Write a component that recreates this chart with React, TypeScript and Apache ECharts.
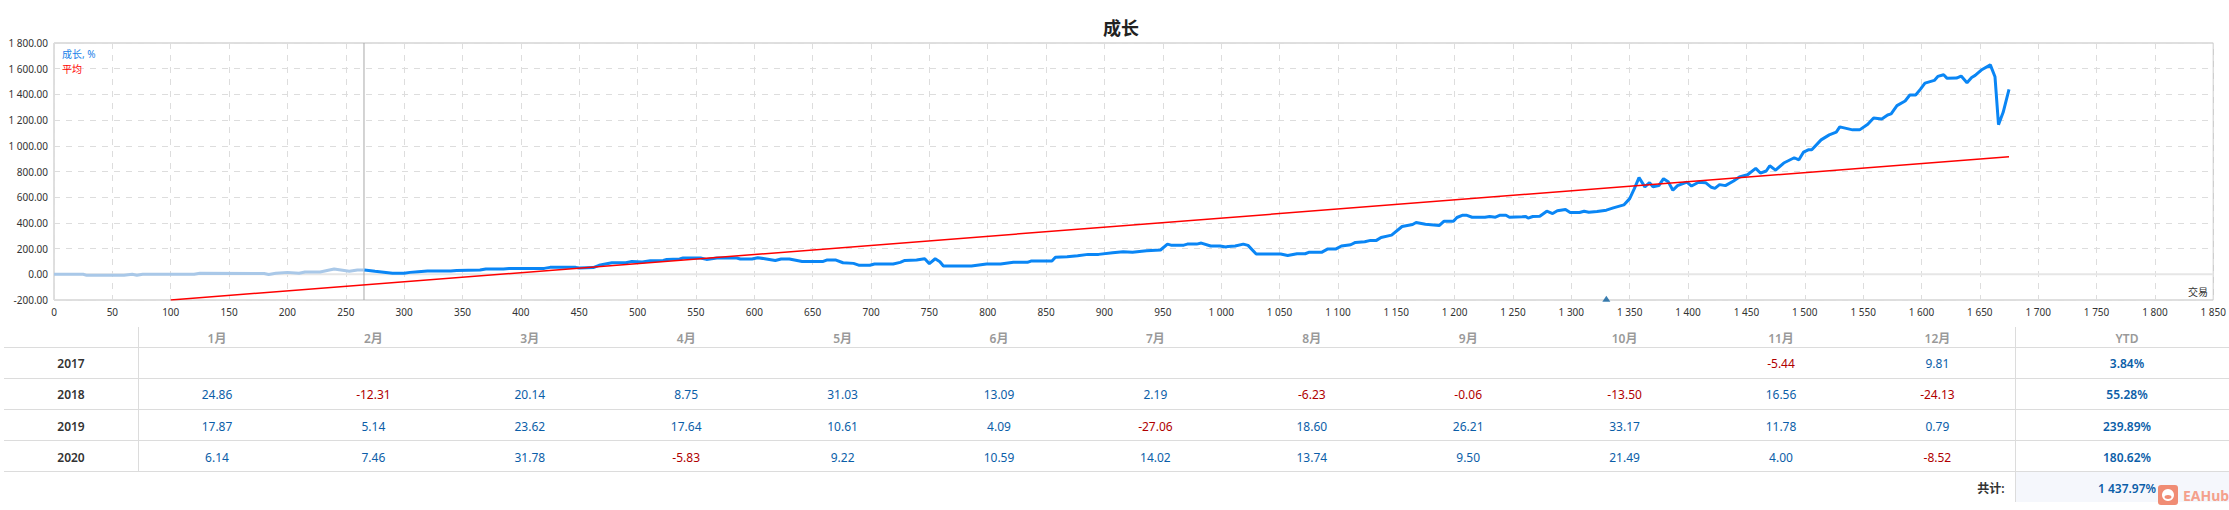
import React, { useEffect, useRef } from "react";
import * as echarts from "echarts";

const fadedTrades = [0, 25, 28, 60, 67, 71, 76, 120, 125, 180, 184, 190, 200, 210, 215, 228, 240, 253, 260, 266];
const fadedGrowth = [0, 0, -8, -8, 0, -8, 0, 0, 8, 6, -2, 8, 15, 8, 18, 18, 41, 23, 33, 33];

const growthTrades = [
  266, 275, 290, 300, 305, 312, 320, 340, 345, 365, 370, 385, 390, 420, 425, 447, 450, 462, 467, 478, 490, 495, 504, 511, 522, 525, 536, 539, 554, 559, 568, 585, 588, 598, 603, 609, 618, 623, 630, 641, 659, 662, 670, 676, 685, 690, 699, 703, 719, 725, 729, 739, 746, 750, 755, 759, 762, 786, 799, 811, 822, 834, 837, 855, 858, 868, 877, 886, 895,
  907, 916, 924, 936, 948, 954, 957, 968, 971, 979, 983, 991, 999, 1004, 1006, 1012, 1019, 1023, 1030, 1051, 1057, 1065, 1072, 1075, 1086, 1091, 1098, 1103, 1111, 1115, 1123, 1128, 1133, 1137, 1146, 1155, 1164, 1167, 1175, 1187, 1191, 1199, 1202, 1207, 1210, 1215, 1226, 1230, 1235, 1239, 1244, 1247, 1258, 1261, 1263, 1267, 1273, 1279, 1284, 1288, 1295, 1299, 1307, 1311, 1315, 1322, 1330, 1336, 1345, 1350, 1354, 1358, 1363, 1367,
  1370, 1375, 1379, 1383, 1387, 1391, 1399, 1403, 1409, 1415, 1420, 1423, 1427, 1432, 1439, 1444, 1451, 1458, 1462, 1467, 1470, 1475, 1482, 1491, 1495, 1499, 1503, 1506, 1514, 1521, 1527, 1530, 1541, 1547, 1554, 1559, 1566, 1571, 1574, 1579, 1586, 1590, 1595, 1599, 1603, 1611, 1614, 1619, 1622, 1630, 1634, 1639, 1643, 1646, 1652, 1659, 1663, 1666, 1670, 1675,
];
const growthValues = [
  33, 23, 8, 8, 15, 20, 25, 25, 30, 33, 41, 41, 46, 46, 54, 54, 49, 52, 70, 90, 90, 100, 95, 106, 108, 116, 119, 127, 127, 116, 127, 127, 119, 119, 129, 121, 108, 119, 119, 100, 100, 111, 111, 90, 85, 70, 70, 80, 80, 93, 108, 111, 121, 83, 121, 98, 65, 65, 80, 80, 93, 93, 103, 103, 132, 137, 145, 155, 155,
  168, 176, 171, 183, 189, 235, 227, 227, 235, 235, 243, 220, 220, 212, 217, 220, 235, 225, 158, 158, 147, 160, 160, 171, 171, 196, 196, 220, 230, 248, 253, 264, 264, 287, 305, 372, 388, 403, 390, 380, 413, 413, 442, 460, 460, 444, 444, 450, 444, 460, 460, 444, 447, 450, 437, 450, 452, 491, 473, 494, 504, 481, 481, 491, 483, 488, 499, 517, 540, 589, 667, 752, 680, 713,
  682, 690, 744, 721, 654, 690, 718, 687, 716, 713, 677, 669, 698, 690, 726, 757, 775, 824, 788, 804, 845, 811, 866, 907, 891, 951, 969, 969, 1046, 1085, 1106, 1147, 1124, 1124, 1168, 1217, 1209, 1240, 1248, 1313, 1349, 1395, 1395, 1439, 1488, 1509, 1540, 1553, 1525, 1527, 1543, 1491, 1532, 1548, 1594, 1630, 1537, 1165, 1261, 1439,
];

const averageTrades = [100, 1675];
const averageValues = [-200, 915];
const cursorTrades = [265.6, 265.6];
const cursorValues = [-200, 1800];
const zeroTrades = [0, 1850];
const zeroValues = [0, 0];
const markerTrades = [1330];
const markerValues = [-191];

const headers = ["1月", "2月", "3月", "4月", "5月", "6月", "7月", "8月", "9月", "10月", "11月", "12月"];
const years = ["2017", "2018", "2019", "2020"];
const row2017 = ["", "", "", "", "", "", "", "", "", "", "-5.44", "9.81"];
const row2018 = ["24.86", "-12.31", "20.14", "8.75", "31.03", "13.09", "2.19", "-6.23", "-0.06", "-13.50", "16.56", "-24.13"];
const row2019 = ["17.87", "5.14", "23.62", "17.64", "10.61", "4.09", "-27.06", "18.60", "26.21", "33.17", "11.78", "0.79"];
const row2020 = ["6.14", "7.46", "31.78", "-5.83", "9.22", "10.59", "14.02", "13.74", "9.50", "21.49", "4.00", "-8.52"];
const ytd = ["3.84%", "55.28%", "239.89%", "180.62%"];
const totalLabel = "共计:";
const totalValue = "1 437.97%";

const FONT = '"Noto Sans", "Noto Sans CJK SC", sans-serif';
const pairs = (xs: number[], ys: number[]) => xs.map((x, i) => [x, ys[i]]);
const spaced = (s: string) => s.replace(/\B(?=(\d{3})+(?!\d))/g, " ");

function tableGraphics() {
  const rows = [row2017, row2018, row2019, row2020];
  const lineYs = [347.5, 378.5, 409.5, 440.5, 471.5];
  const rowYs = [363.5, 394.5, 426, 457];
  const colX = (i: number) => 217 + i * 156.4;
  const els: any[] = [];
  const text = (x: number, y: number, t: string, fill: string, weight: any = "normal", align: any = "center", size = 12) => ({
    type: "text", x, y, silent: true,
    style: { text: t, fill, font: `${weight} ${size}px ${FONT}`, textAlign: align, textVerticalAlign: "middle" },
  });
  const line = (x1: number, y1: number, x2: number, y2: number) => ({
    type: "line", silent: true, shape: { x1, y1, x2, y2 }, style: { stroke: "#dcdcdc", lineWidth: 1 },
  });
  els.push({ type: "rect", silent: true, shape: { x: 2016, y: 472, width: 213, height: 30 }, style: { fill: "#f5f7fc" } });
  lineYs.forEach((y) => els.push(line(4, y, 2229, y)));
  els.push(line(138.5, 327, 138.5, 471.5));
  els.push(line(2015.5, 327, 2015.5, 502));
  headers.forEach((h, i) => els.push(text(colX(i), 338, h, "#999999", 600)));
  els.push(text(2127, 338, "YTD", "#999999", 600));
  years.forEach((y, r) => {
    els.push(text(71, rowYs[r], y, "#333333", 600));
    rows[r].forEach((v, c) => {
      if (v) els.push(text(colX(c), rowYs[r], v, v.startsWith("-") ? "#b00000" : "#0b5ea8"));
    });
    els.push(text(2127, rowYs[r], ytd[r], "#0b5ea8", 600));
  });
  els.push(text(2004.5, 488, totalLabel, "#333333", 600, "right"));
  els.push(text(2127, 488, totalValue, "#0b5ea8", 600));
  // watermark
  els.push({ type: "rect", silent: true, shape: { x: 2158, y: 485, width: 20, height: 20, r: 3 }, style: { fill: "#f08c74" } });
  els.push({ type: "circle", silent: true, shape: { cx: 2168, cy: 495, r: 6 }, style: { fill: "#ffffff" } });
  els.push({ type: "ellipse", silent: true, shape: { cx: 2168, cy: 497, rx: 3.5, ry: 2 }, style: { fill: "#f08c74" } });
  els.push(text(2183, 495, "EAHub", "#f4a08c", "bold", "left", 14));
  els.push(text(2208, 292, "交易", "#333333", "normal", "right", 10));
  return els;
}

export default function App() {
  const ref = useRef<HTMLDivElement>(null);
  useEffect(() => {
    const chart = echarts.init(ref.current!, undefined, { renderer: "svg" });
    const plain = { type: "line", showSymbol: false, symbol: "none", silent: true };
    chart.setOption({
      animation: false,
      backgroundColor: "#ffffff",
      title: {
        text: "成长", left: 1116, top: 14, textAlign: "center",
        textStyle: { fontFamily: FONT, fontSize: 18, fontWeight: "bold", color: "#222222" },
      },
      legend: {
        left: 57, top: 49, orient: "vertical", icon: "none", itemWidth: 0, itemHeight: 10, itemGap: 5, padding: 0,
        selectedMode: false,
        data: [
          { name: "成长, %", textStyle: { color: "#1a7fe8" } },
          { name: "平均", textStyle: { color: "#ff0000" } },
        ],
        textStyle: { fontFamily: FONT, fontSize: 10 },
      },
      grid: { left: 54, right: 13, top: 43, height: 257, show: true, borderColor: "#bfbfbf", borderWidth: 1, backgroundColor: "transparent" },
      xAxis: {
        type: "value", min: 0, max: 1850, interval: 50,
        axisLine: { show: false }, axisTick: { show: false },
        axisLabel: { margin: 7, fontSize: 10, fontFamily: FONT, color: "#333333", hideOverlap: false, formatter: (v: number) => spaced(String(v)) },
        splitLine: { show: true, lineStyle: { color: "#dddddd", type: [6, 6] } },
      },
      yAxis: {
        type: "value", min: -200, max: 1800, interval: 200,
        axisLine: { show: false }, axisTick: { show: false },
        axisLabel: { margin: 6, fontSize: 10, fontFamily: FONT, color: "#333333", formatter: (v: number) => spaced(v.toFixed(2)) },
        splitLine: { show: true, lineStyle: { color: "#dddddd", type: [6, 6] } },
      },
      series: [
        { ...plain, name: "零", data: pairs(zeroTrades, zeroValues), lineStyle: { color: "#e6e6e6", width: 2 } },
        { ...plain, name: "游标", data: pairs(cursorTrades, cursorValues), lineStyle: { color: "#a8a8a8", width: 1 } },
        { ...plain, name: "成长, %", data: pairs(fadedTrades, fadedGrowth), color: "#a9c8e8", lineStyle: { color: "#a9c8e8", width: 3 } },
        { ...plain, name: "成长, %", data: pairs(growthTrades, growthValues), color: "#0a86f5", lineStyle: { color: "#0a86f5", width: 3 } },
        { ...plain, name: "平均", data: pairs(averageTrades, averageValues), color: "#ff0000", lineStyle: { color: "#ff0000", width: 1.5 }, z: 5 },
        { type: "scatter", name: "标记", silent: true, data: pairs(markerTrades, markerValues), symbol: "triangle", symbolSize: [8, 6], itemStyle: { color: "#0b5f9e" } },
      ],
      graphic: tableGraphics(),
    });
    return () => chart.dispose();
  }, []);
  return <div ref={ref} style={{ position: "fixed", left: 0, top: 0, width: 2229, height: 510 }} />;
}
